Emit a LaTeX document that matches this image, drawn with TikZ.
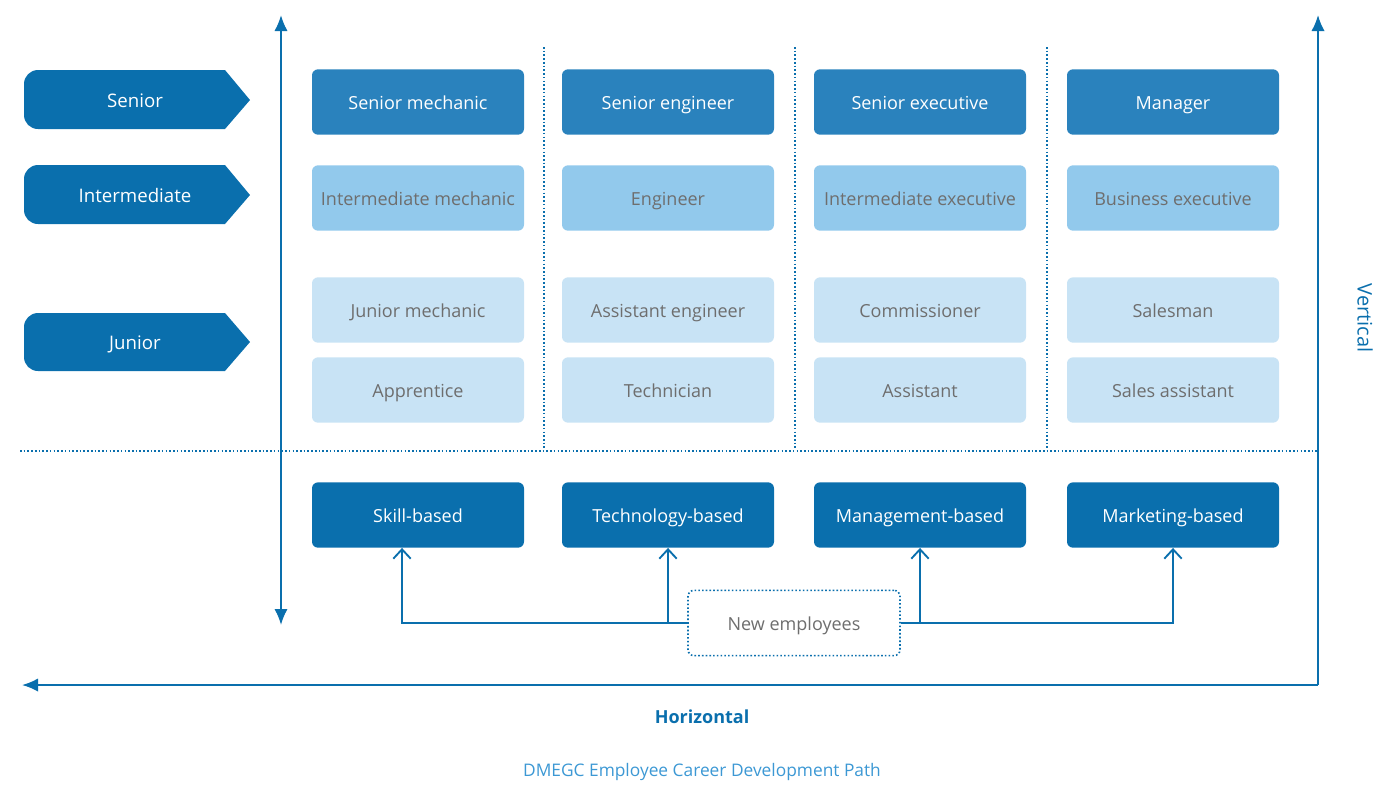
\documentclass[tikz,border=0pt]{standalone}
\usepackage{fontspec}
\setmainfont{Open Sans}
\usetikzlibrary{arrows.meta}

\definecolor{dmblue}{HTML}{0A6FAD}
\definecolor{dmmid}{HTML}{2A82BD}
\definecolor{dmlight}{HTML}{92C9EC}
\definecolor{dmpale}{HTML}{C8E3F5}
\definecolor{dmgrey}{HTML}{6E6E6E}
\definecolor{dmcap}{HTML}{3C98D4}

\begin{document}
\begin{tikzpicture}[x=0.75pt,y=-0.75pt,
    job/.style={rounded corners=4.5pt,minimum width=159pt,minimum height=49pt,
      inner sep=0pt,text height=11pt,text depth=0pt,font=\fontsize{13.5}{15}\selectfont},
    seniorbox/.style={job,fill=dmmid,text=white},
    midbox/.style={job,fill=dmlight,text=dmgrey},
    juniorbox/.style={job,fill=dmpale,text=dmgrey},
    pathbox/.style={job,fill=dmblue,text=white},
    lvl/.style={fill=dmblue},
    lvltext/.style={text=white,text height=11pt,text depth=0pt,font=\fontsize{14}{16}\selectfont},
    axis/.style={dmblue,line width=1.5pt,-{Latex[length=12pt,width=10pt]}},
    sep/.style={dmblue,line width=1.2pt,dash pattern=on 1.2pt off 1.6pt},
    up/.style={dmblue,line width=1.4pt,-{Straight Barb[length=7pt,width=13pt,line width=1.4pt]}}]
      \useasboundingbox (0,0) rectangle (1383,794) ;
      % level tags on the left
      \fill[lvl] (225,70) -- (250,100) -- (225,129) -- (38,129) arc[start angle=270,end angle=180,radius=10.5pt]
        -- (24,84) arc[start angle=180,end angle=90,radius=10.5pt] -- cycle ;
      \fill[lvl] (225,165) -- (250,195) -- (225,224) -- (38,224) arc[start angle=270,end angle=180,radius=10.5pt]
        -- (24,179) arc[start angle=180,end angle=90,radius=10.5pt] -- cycle ;
      \fill[lvl] (225,313) -- (250,342) -- (225,371) -- (38,371) arc[start angle=270,end angle=180,radius=10.5pt]
        -- (24,327) arc[start angle=180,end angle=90,radius=10.5pt] -- cycle ;
      \node[lvltext] (sen) at (135,100) {Senior} ;
      \node[lvltext] (mid) at (135,195) {Intermediate} ;
      \node[lvltext] (jun) at (135,342) {Junior} ;
      % vertical double arrow
      \coordinate (vtop) at (281,15) ;
      \coordinate (vbot) at (281,625) ;
      \draw[dmblue,line width=1.5pt,{Latex[length=12pt,width=10pt]}-{Latex[length=12pt,width=10pt]}] (vtop) -- (vbot) ;
      % separators
      \draw[sep] (544,47) -- (544,450) ;
      \draw[sep] (795,47) -- (795,450) ;
      \draw[sep] (1047,47) -- (1047,450) ;
      \draw[sep] (20,451) -- (1318,451) ;
      % skill column
      \node[seniorbox] (sm) at (418,102) {Senior mechanic} ;
      \node[midbox] (im) at (418,198) {Intermediate mechanic} ;
      \node[juniorbox] (jm) at (418,310) {Junior mechanic} ;
      \node[juniorbox] (ap) at (418,390) {Apprentice} ;
      % technology column
      \node[seniorbox] (se) at (668,102) {Senior engineer} ;
      \node[midbox] (en) at (668,198) {Engineer} ;
      \node[juniorbox] (ae) at (668,310) {Assistant engineer} ;
      \node[juniorbox] (te) at (668,390) {Technician} ;
      % management column
      \node[seniorbox] (sx) at (920,102) {Senior executive} ;
      \node[midbox] (ix) at (920,198) {Intermediate executive} ;
      \node[juniorbox] (co) at (920,310) {Commissioner} ;
      \node[juniorbox] (as) at (920,390) {Assistant} ;
      % marketing column
      \node[seniorbox] (ma) at (1173,102) {Manager} ;
      \node[midbox] (bx) at (1173,198) {Business executive} ;
      \node[juniorbox] (sa) at (1173,310) {Salesman} ;
      \node[juniorbox] (ss) at (1173,390) {Sales assistant} ;
      % career paths
      \node[pathbox] (skill) at (418,515) {Skill-based} ;
      \node[pathbox] (tech) at (668,515) {Technology-based} ;
      \node[pathbox] (mgmt) at (920,515) {Management-based} ;
      \node[pathbox] (mkt) at (1173,515) {Marketing-based} ;
      \node[job,draw=dmblue,line width=1.2pt,dash pattern=on 1.2pt off 1.6pt,
        fill=white,text=dmgrey] (ne) at (794,623) {New employees} ;
      \draw[up] (ne.west) -| ([xshift=-12pt]skill.south) ;
      \draw[up] (ne.west) -| (tech.south) ;
      \draw[up] (ne.east) -| (mgmt.south) ;
      \draw[up] (ne.east) -| (mkt.south) ;
      % outer axes
      \coordinate (corner) at (1318,685) ;
      \coordinate (hend) at (22,685) ;
      \coordinate (vend) at (1318,15) ;
      \draw[axis] (corner) -- (hend) ;
      \draw[axis] (corner) -- (vend) ;
      \node[text=dmblue,font=\fontsize{13.5}{15}\selectfont\bfseries] (hor) at (702,717) {Horizontal} ;
      \node[text=dmblue,rotate=-90,font=\fontsize{15}{17}\selectfont] (ver) at (1365,318) {Vertical} ;
      \node[text=dmcap,font=\fontsize{13}{15}\selectfont] (cap) at (702,772) {DMEGC Employee Career Development Path} ;
    \end{tikzpicture}
\end{document}
